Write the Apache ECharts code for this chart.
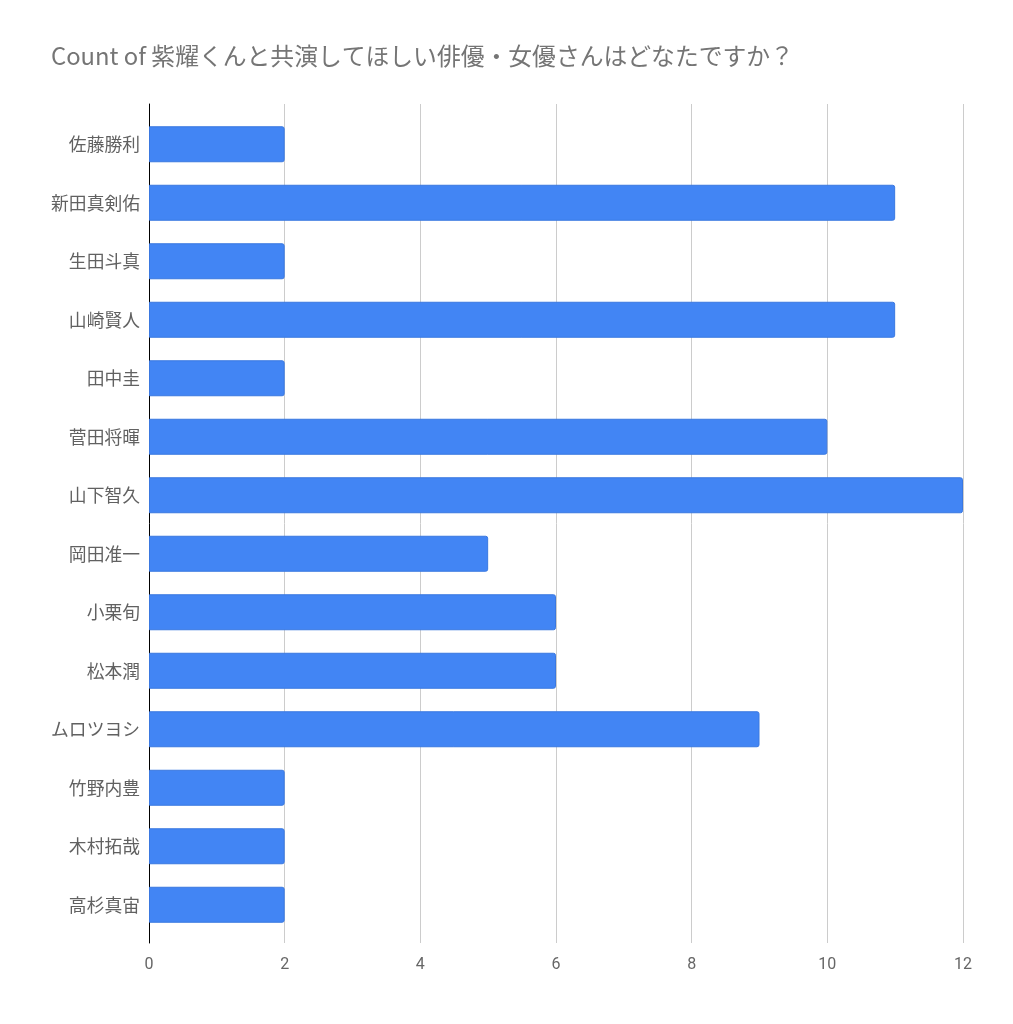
<!DOCTYPE html>
<html>
<head>
<meta charset="utf-8">
<script src="https://cdn.jsdelivr.net/npm/echarts@6/dist/echarts.min.js"></script>
<style>
  html, body { margin: 0; padding: 0; background: #fff; }
  #chart { width: 1013px; height: 1024px; }
</style>
</head>
<body>
<div id="chart"></div>
<script>
// 数据
const titleText = 'Count of 紫耀くんと共演してほしい俳優・女優さんはどなたですか？';
const names = ['佐藤勝利', '新田真剣佑', '生田斗真', '山崎賢人', '田中圭', '菅田将暉', '山下智久',
    '岡田准一', '小栗旬', '松本潤', 'ムロツヨシ', '竹野内豊', '木村拓哉', '高杉真宙'];
const counts = [2, 11, 2, 11, 2, 10, 12, 5, 6, 6, 9, 2, 2, 2];
const xTicks = [0, 2, 4, 6, 8, 10, 12];

const chart = echarts.init(document.getElementById('chart'));

const font = '"Noto Sans CJK JP", Roboto, Arial, sans-serif';
const xMin = xTicks[0];
const xMax = xTicks[xTicks.length - 1];

const option = {
    backgroundColor: '#ffffff',
    title: {
        text: titleText,
        left: 46,
        top: 39,
        textStyle: {
            fontFamily: font,
            fontSize: 23.8,
            fontWeight: 'normal',
            color: '#757575'
        }
    },
    // 外框网格：网格线和坐标轴；内框网格：条形
    grid: [
        { left: 149, right: 50, top: 104, bottom: 81 },
        { left: 149, right: 50, top: 115, bottom: 90 }
    ],
    xAxis: [
        {
            type: 'value',
            gridIndex: 0,
            min: xMin,
            max: xMax,
            interval: 2,
            axisLine: { show: false },
            axisTick: { show: false },
            splitLine: { lineStyle: { color: '#cccccc', width: 1 } },
            axisLabel: {
                margin: 14,
                fontFamily: 'Roboto, Arial, sans-serif',
                fontSize: 16,
                color: '#666666'
            }
        },
        {
            type: 'value',
            gridIndex: 1,
            min: xMin,
            max: xMax,
            show: false
        }
    ],
    yAxis: [
        {
            type: 'value',
            gridIndex: 0,
            min: 0,
            max: 1,
            axisLine: { show: true, onZero: false, lineStyle: { color: '#000000', width: 1 } },
            axisTick: { show: false },
            axisLabel: { show: false },
            splitLine: { show: false }
        },
        {
            type: 'category',
            gridIndex: 1,
            inverse: true,
            data: names,
            axisLine: { show: false },
            axisTick: { show: false },
            axisLabel: {
                margin: 9,
                fontFamily: font,
                fontSize: 17.8,
                color: '#616161'
            }
        }
    ],
    series: [
        {
            type: 'bar',
            xAxisIndex: 1,
            yAxisIndex: 1,
            data: counts,
            barWidth: 36,
            itemStyle: {
                color: '#4285f4',
                borderColor: '#3a78e0',
                borderWidth: 1,
                borderRadius: [0, 2, 2, 0]
            }
        }
    ]
};

chart.setOption(option);
</script>
</body>
</html>
